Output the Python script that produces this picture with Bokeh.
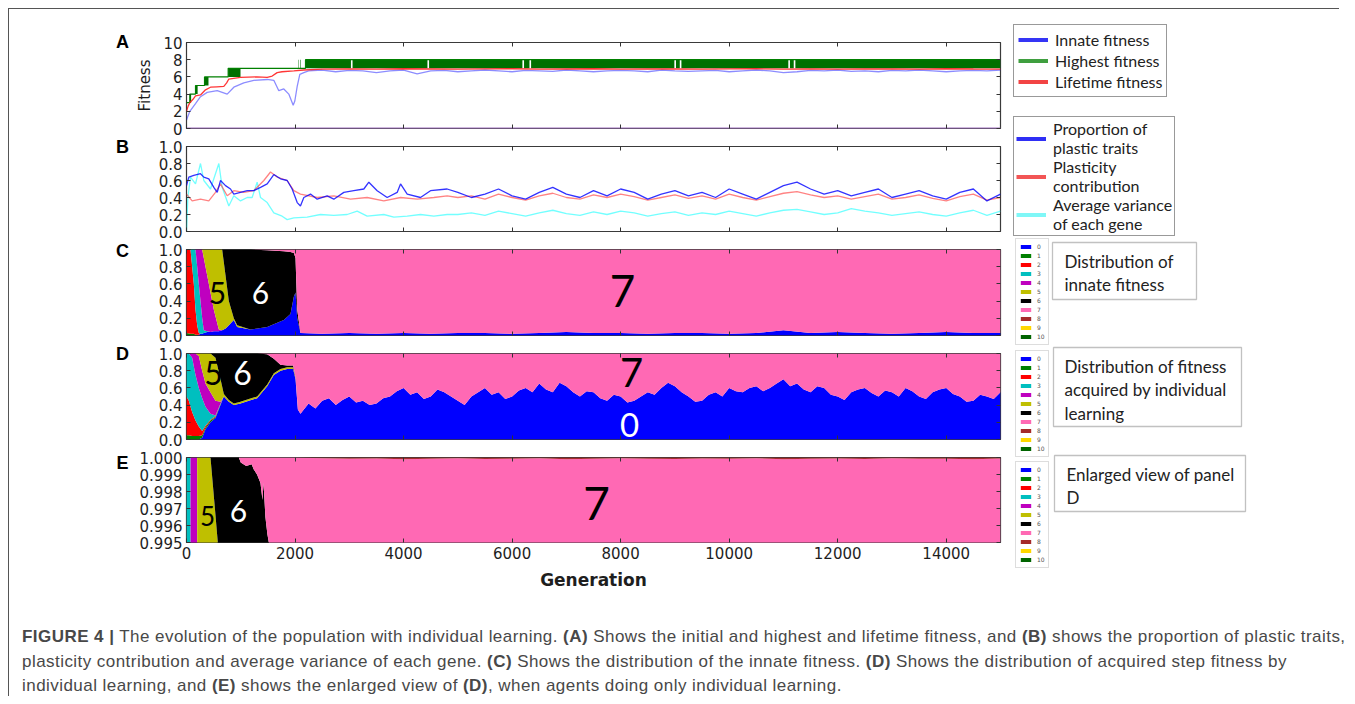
from bokeh.plotting import figure
from bokeh.models import (Range1d, FixedTicker, LinearAxis, Label, Legend, LegendItem,
                          Div, PrintfTickFormatter, BoxAnnotation)
from bokeh.layouts import column, row
from bokeh.embed import file_html
from bokeh.resources import INLINE

# ------------------------------------------------------------------ data
GEN_TICKS = [0, 2000, 4000, 6000, 8000, 10000, 12000, 14000]
LEVEL_LABELS = [str(i) for i in range(11)]
LEVEL_COLORS = ["#0000ff", "#008000", "#ff0000", "#00bfbf", "#bf00bf", "#bfbf00",
                "#000000", "#ff69b4", "#a52a2a", "#ffd700", "#006400"]
PANEL_LETTERS = ["A", "B", "C", "D", "E"]

# Panel A : fitness
A_innate_gen = [0, 61, 166, 258, 381, 566, 750, 872, 1056, 1240, 1487, 1609, 1701, 1793,
                1885, 1966, 1996, 2040, 2088, 2162] + list(range(2250, 15001, 250))
A_innate = [1.0, 2.0, 2.9, 3.7, 4.2, 4.4, 4.0, 4.8, 5.3, 5.6, 5.7, 5.6, 4.4, 4.6, 4.0, 2.7,
            3.2, 4.9, 6.3, 6.5,
            6.7, 6.8, 6.6, 6.75, 6.7, 6.5, 6.7, 6.8, 6.35, 6.7,
            6.75, 6.6, 6.7, 6.8, 6.7, 6.6, 6.75, 6.7, 6.65, 6.8,
            6.7, 6.6, 6.7, 6.75, 6.7, 6.6, 6.8, 6.7, 6.65, 6.7,
            6.75, 6.6, 6.7, 6.8, 6.7, 6.5, 6.6, 6.75, 6.7, 6.8,
            6.65, 6.7, 6.6, 6.75, 6.7, 6.8, 6.7, 6.6, 6.7, 6.75,
            6.7, 6.8]
assert len(A_innate) == len(A_innate_gen)
A_life_gen = [0, 30, 61, 120, 166, 258, 350, 442, 560, 688, 740, 780, 995, 1300, 1487, 1579,
              1670, 1760, 1978, 2162] + list(range(2500, 15001, 500))
A_life = [2.0, 2.6, 3.0, 3.4, 3.8, 3.9, 4.5, 4.8, 4.85, 4.9, 5.3, 5.75, 5.95, 6.0, 5.95, 6.1,
          6.5, 6.6, 6.7, 6.8,
          6.9, 6.92, 6.9, 6.95, 6.92, 6.9, 6.93, 6.95, 6.9, 6.92, 6.95, 6.9, 6.92, 6.94, 6.9,
          6.93, 6.95, 6.9, 6.92, 6.9, 6.94, 6.92, 6.9, 6.95, 6.92, 6.9]
A_high_gen = [0, 61, 166, 332, 768, 2193, 15000]
A_high = [3, 4, 5, 6, 7, 8, 8]
A_flick_start = [61, 166, 332, 768, 2064, 2100, 2193, 3060, 4470, 6220, 6350, 9020, 9120, 11120, 11220]
A_flick_end = [85, 205, 405, 995, 2072, 2110, 3030, 4440, 6190, 6320, 8990, 9090, 11090, 11190, 15000]
A_flick_low = [3, 4, 5, 6, 7, 7, 7, 7, 7, 7, 7, 7, 7, 7, 7]
A_zero_gen = [0, 15000]
A_zero = [0, 0]

# Panel B : plasticity
B_late_gen = list(range(5000, 15001, 250))
B_blue_gen = [0, 43, 135, 258, 319, 411, 504, 566, 627, 719, 811, 872, 995, 1118, 1240, 1364,
              1487, 1609, 1732, 1855, 1947, 2040, 2100, 2162, 2285, 2408, 2592, 2715, 2899,
              3083, 3268, 3360, 3514, 3698, 3882, 3944, 4067, 4312, 4496, 4803] + B_late_gen
B_blue = [0.54, 0.64, 0.66, 0.68, 0.64, 0.62, 0.52, 0.46, 0.60, 0.54, 0.50, 0.44, 0.46, 0.48,
          0.48, 0.52, 0.56, 0.67, 0.62, 0.60, 0.50, 0.34, 0.30, 0.40, 0.44, 0.38, 0.42, 0.38,
          0.46, 0.48, 0.50, 0.58, 0.48, 0.40, 0.46, 0.56, 0.44, 0.40, 0.48, 0.50,
          0.46, 0.40, 0.44, 0.50, 0.42, 0.38, 0.46, 0.52, 0.44, 0.40, 0.48, 0.42, 0.50, 0.46,
          0.38, 0.44, 0.48, 0.42, 0.46, 0.40, 0.50, 0.44, 0.38, 0.46, 0.54, 0.58, 0.50, 0.44,
          0.48, 0.42, 0.46, 0.50, 0.40, 0.44, 0.48, 0.42, 0.38, 0.46, 0.50, 0.36, 0.44]
B_red_gen = [0, 104, 258, 411, 534, 627, 750, 872, 1056, 1240, 1425, 1548, 1670, 1855, 1978,
             2100, 2408, 2715, 3022, 3329, 3636, 3944, 4251, 4558, 4803] + B_late_gen
B_red = [0.44, 0.36, 0.38, 0.36, 0.46, 0.56, 0.42, 0.48, 0.46, 0.48, 0.60, 0.70, 0.64, 0.60,
         0.48, 0.44, 0.40, 0.42, 0.38, 0.40, 0.36, 0.40, 0.38, 0.40, 0.42,
         0.40, 0.42, 0.38, 0.44, 0.40, 0.37, 0.42, 0.45, 0.40, 0.38, 0.43, 0.40, 0.44, 0.41,
         0.37, 0.40, 0.43, 0.39, 0.42, 0.38, 0.44, 0.40, 0.37, 0.41, 0.45, 0.47, 0.43, 0.40,
         0.42, 0.38, 0.41, 0.44, 0.38, 0.40, 0.43, 0.39, 0.36, 0.41, 0.44, 0.37, 0.40]
B_cyan_gen = [0, 25, 74, 166, 258, 319, 442, 534, 596, 657, 780, 872, 995, 1118, 1210, 1302,
              1364, 1487, 1609, 1762, 1855, 1978, 2223, 2469, 2715, 2961, 3145, 3329, 3636,
              3821, 4067, 4312, 4558, 4803] + B_late_gen
B_cyan = [0.0, 0.40, 0.64, 0.56, 0.80, 0.60, 0.50, 0.68, 0.80, 0.52, 0.30, 0.42, 0.36, 0.40,
          0.40, 0.58, 0.40, 0.34, 0.22, 0.18, 0.14, 0.16, 0.17, 0.20, 0.19, 0.20, 0.24, 0.18,
          0.20, 0.17, 0.18, 0.20, 0.18, 0.20,
          0.20, 0.22, 0.19, 0.24, 0.21, 0.18, 0.22, 0.25, 0.21, 0.19, 0.23, 0.20, 0.24, 0.22,
          0.18, 0.21, 0.23, 0.19, 0.22, 0.20, 0.24, 0.21, 0.18, 0.22, 0.25, 0.26, 0.23, 0.20,
          0.22, 0.27, 0.24, 0.22, 0.19, 0.21, 0.23, 0.20, 0.18, 0.22, 0.25, 0.19, 0.24]

# Panel C : distribution of innate fitness (cumulative share of levels <= k)
C_gen_early = [0, 74, 135, 166, 197, 227, 258, 289, 319, 381, 442, 504, 596, 657, 719, 780,
               872, 934, 1179, 1487, 1793, 1916, 1978, 2009, 2040, 2100]
C_le0_early = [0, 0, 0, 0, 0, 0.01, 0.02, 0.02, 0.03, 0.04, 0.04, 0.05, 0.05, 0.06, 0.08, 0.12,
               0.18, 0.10, 0.07, 0.10, 0.18, 0.25, 0.45, 0.50, 0.20, 0.03]
C_le1_early = [0.03, 0.02, 0.02, 0.01, 0.01, 0.01, 0.02, 0.02, 0.03, 0.04, 0.04, 0.05, 0.05,
               0.06, 0.08, 0.12, 0.18, 0.10, 0.07, 0.10, 0.18, 0.25, 0.45, 0.50, 0.20, 0.03]
C_le2_early = [1.0, 1.0, 0.6, 0.3, 0.12, 0.03, 0.02, 0.02, 0.03, 0.04, 0.04, 0.05, 0.05, 0.06,
               0.08, 0.12, 0.18, 0.10, 0.07, 0.10, 0.18, 0.25, 0.45, 0.50, 0.20, 0.03]
C_le3_early = [1.0, 1.0, 1.0, 1.0, 0.8, 0.6, 0.4, 0.2, 0.06, 0.05, 0.04, 0.05, 0.05, 0.06,
               0.08, 0.12, 0.18, 0.10, 0.07, 0.10, 0.18, 0.25, 0.45, 0.50, 0.20, 0.03]
C_le4_early = [1.0, 1.0, 1.0, 1.0, 1.0, 1.0, 1.0, 1.0, 0.9, 0.7, 0.5, 0.3, 0.07, 0.06, 0.08,
               0.12, 0.18, 0.10, 0.07, 0.10, 0.18, 0.25, 0.45, 0.50, 0.20, 0.03]
C_le5_early = [1.0, 1.0, 1.0, 1.0, 1.0, 1.0, 1.0, 1.0, 1.0, 1.0, 1.0, 1.0, 1.0, 1.0, 0.7, 0.4,
               0.2, 0.12, 0.07, 0.10, 0.18, 0.25, 0.45, 0.50, 0.20, 0.03]
C_le6_early = [1.0, 1.0, 1.0, 1.0, 1.0, 1.0, 1.0, 1.0, 1.0, 1.0, 1.0, 1.0, 1.0, 1.0, 1.0, 1.0,
               1.0, 1.0, 1.0, 0.99, 0.98, 0.97, 0.96, 0.90, 0.30, 0.03]
C_late_gen = list(range(2500, 15001, 500))
C_late_le0 = [0.02, 0.03, 0.02, 0.03, 0.02, 0.03, 0.03, 0.02, 0.03, 0.04, 0.03, 0.03, 0.02,
              0.03, 0.03, 0.02, 0.03, 0.06, 0.03, 0.04, 0.03, 0.02, 0.03, 0.04, 0.03, 0.03]

# Panel D : distribution of fitness acquired by individual learning
D_gen_early = [0, 43, 104, 166, 227, 289, 350, 442, 534, 627, 688, 780, 872, 995, 1148, 1302,
               1487, 1609, 1732, 1855, 1966, 2009, 2052, 2100]
D_le0_early = [0, 0, 0, 0, 0, 0.02, 0.12, 0.20, 0.25, 0.40, 0.50, 0.44, 0.40, 0.42, 0.45, 0.48,
               0.62, 0.75, 0.80, 0.82, 0.82, 0.70, 0.35, 0.30]
D_le1_early = [0.05, 0.05, 0.04, 0.04, 0.04, 0.05, 0.14, 0.22, 0.26, 0.41, 0.50, 0.44, 0.40,
               0.42, 0.45, 0.48, 0.62, 0.75, 0.80, 0.82, 0.82, 0.70, 0.35, 0.30]
D_le2_early = [0.50, 0.45, 0.32, 0.22, 0.15, 0.10, 0.16, 0.23, 0.27, 0.41, 0.50, 0.44, 0.40,
               0.42, 0.45, 0.48, 0.62, 0.75, 0.80, 0.82, 0.82, 0.70, 0.35, 0.30]
D_le3_early = [1.0, 1.0, 0.95, 0.75, 0.60, 0.48, 0.38, 0.30, 0.28, 0.42, 0.50, 0.44, 0.40,
               0.42, 0.45, 0.48, 0.62, 0.75, 0.80, 0.82, 0.82, 0.70, 0.35, 0.30]
D_le4_early = [1.0, 1.0, 1.0, 1.0, 0.97, 0.80, 0.65, 0.55, 0.45, 0.44, 0.50, 0.44, 0.40, 0.42,
               0.45, 0.48, 0.62, 0.75, 0.80, 0.82, 0.82, 0.70, 0.35, 0.30]
D_le5_early = [1.0, 1.0, 1.0, 1.0, 1.0, 1.0, 1.0, 1.0, 0.95, 0.70, 0.53, 0.46, 0.42, 0.44, 0.47,
               0.50, 0.64, 0.77, 0.82, 0.84, 0.84, 0.71, 0.35, 0.30]
D_le6_early = [1.0, 1.0, 1.0, 1.0, 1.0, 1.0, 1.0, 1.0, 1.0, 1.0, 1.0, 1.0, 1.0, 1.0, 1.0, 1.0,
               0.99, 0.94, 0.87, 0.86, 0.86, 0.72, 0.35, 0.30]
D_late_gen = list(range(2250, 15001, 125))
D_late_le0 = [
    0.42, 0.36, 0.45, 0.48, 0.40, 0.46, 0.50, 0.43,      # 2250 - 3125
    0.45, 0.40, 0.42, 0.48, 0.50, 0.56, 0.60, 0.52,      # 3250 - 4125
    0.55, 0.47, 0.50, 0.58, 0.55, 0.50, 0.45, 0.40,      # 4250 - 5125
    0.50, 0.55, 0.60, 0.52, 0.55, 0.47, 0.50, 0.57,      # 5250 - 6125
    0.60, 0.55, 0.65, 0.58, 0.55, 0.66, 0.62, 0.55,      # 6250 - 7125
    0.50, 0.56, 0.55, 0.48, 0.45, 0.52, 0.50, 0.43,      # 7250 - 8125
    0.45, 0.50, 0.55, 0.52, 0.60, 0.66, 0.62, 0.55,      # 8250 - 9125
    0.50, 0.44, 0.45, 0.52, 0.55, 0.50, 0.60, 0.56,      # 9250 - 10125
    0.55, 0.60, 0.62, 0.56, 0.60, 0.65, 0.70, 0.62,      # 10250 - 11125
    0.65, 0.58, 0.55, 0.62, 0.60, 0.52, 0.50, 0.46,      # 11250 - 12125
    0.55, 0.58, 0.60, 0.54, 0.50, 0.57, 0.55, 0.50,      # 12250 - 13125
    0.60, 0.56, 0.50, 0.47, 0.55, 0.58, 0.60, 0.53,      # 13250 - 14125
    0.50, 0.44, 0.45, 0.52, 0.50, 0.47, 0.55]            # 14250 - 15000
assert len(D_late_le0) == len(D_late_gen)

# Panel E : enlarged top of panel D (0.995 - 1.000)
E_gen = [0, 74, 75, 197, 198, 442, 510, 577, 600, 964, 1000, 1100, 1200, 1240, 1300, 1363,
         1400, 1420, 1454, 1490, 1517, 1550] + list(range(2000, 15001, 500))
E_le2 = [0.99] * 22 + [0.99] * 27
E_le3 = [1.0, 1.0] + [0.99] * 20 + [0.99] * 27
E_le4 = [1.0, 1.0, 1.0, 1.0] + [0.99] * 18 + [0.99] * 27
E_le5 = [1.0, 1.0, 1.0, 1.0, 1.0, 1.0, 0.9975, 0.995] + [0.99] * 14 + [0.99] * 27
E_le6 = [1.0, 1.0, 1.0, 1.0, 1.0, 1.0, 1.0, 1.0, 1.0, 1.0, 0.9997, 0.9995, 0.9996, 0.9993,
         0.999, 0.9985, 0.9975, 0.9985, 0.9965, 0.9955, 0.995, 0.99] + [0.99] * 27
E_le7 = [1.0] * 22 + [1.0, 0.99995, 0.99992, 0.99994, 0.9999, 0.99993, 0.99995, 0.99991,
                      0.99993, 0.99996, 0.9999, 0.99992, 0.99995, 0.99993, 0.99991, 0.99994,
                      0.99992, 0.99995, 0.9999, 0.99993, 0.99994, 0.99991, 0.99995, 0.99992,
                      0.99993, 0.9999, 0.99994]
E_le8 = [1.0] * 49

# ------------------------------------------------------------------ helpers
FW = 814
TICK_C = "#333333"
LAB_C = "#1e1e1e"
COL_H = 591          # height of the panel column (px)
CAP_H = 96


def make_panel(top, fh, bottom, y0, y1):
    p = figure(frame_width=FW, frame_height=fh, min_border_left=53, min_border_right=5,
               min_border_top=top, min_border_bottom=bottom,
               x_range=Range1d(0, 15000), y_range=Range1d(y0, y1),
               x_axis_location=None, y_axis_location=None,
               output_backend="svg", toolbar_location=None)
    p.grid.visible = False
    p.outline_line_color = "#3a3a3a"
    p.outline_line_width = 1.2
    return p


def hide_labels(ax):
    ax.major_label_text_font_size = "1px"
    ax.major_label_text_color = None
    ax.major_label_standoff = 0


def add_axes(p, yticks, yfmt, xlabels=False, ylabel=None, ysize="15px"):
    for loc in ("left", "right"):
        ax = LinearAxis(ticker=FixedTicker(ticks=yticks), formatter=PrintfTickFormatter(format=yfmt),
                        major_tick_in=4, major_tick_out=0, minor_tick_in=0, minor_tick_out=0,
                        axis_line_color=None, major_tick_line_color=TICK_C,
                        major_label_text_font="DejaVu Sans", major_label_text_font_size=ysize,
                        major_label_text_color=LAB_C, major_label_standoff=4)
        if loc == "right":
            hide_labels(ax)
        elif ylabel:
            ax.axis_label = ylabel
            ax.axis_label_text_font = "DejaVu Sans"
            ax.axis_label_text_font_size = "15px"
            ax.axis_label_text_font_style = "normal"
            ax.axis_label_text_color = LAB_C
            ax.axis_label_standoff = 6
        p.add_layout(ax, loc)
    for loc in ("below", "above"):
        ax = LinearAxis(ticker=FixedTicker(ticks=GEN_TICKS), formatter=PrintfTickFormatter(format="%d"),
                        major_tick_in=4, major_tick_out=0, minor_tick_in=0, minor_tick_out=0,
                        axis_line_color=None, major_tick_line_color=TICK_C,
                        major_label_text_font="DejaVu Sans", major_label_text_font_size="15px",
                        major_label_text_color=LAB_C, major_label_standoff=4)
        if xlabels and loc == "below":
            ax.axis_label = "Generation"
            ax.axis_label_text_font = "DejaVu Sans"
            ax.axis_label_text_font_size = "17px"
            ax.axis_label_text_font_style = "bold"
            ax.axis_label_text_color = LAB_C
            ax.axis_label_standoff = 8
        else:
            hide_labels(ax)
        p.add_layout(ax, loc)


def number(p, x, y, txt, size, color):
    p.add_layout(Label(x=x, y=y, text=txt, text_font="Lato", text_font_size=size,
                       text_align="center", text_baseline="middle", text_color=color))


def stack(p, gens, cums):
    prev = [0.0] * len(gens)
    for k, cum in enumerate(cums):
        if cum is None:
            continue
        p.varea(x=gens, y1=prev, y2=cum, fill_color=LEVEL_COLORS[k], fill_alpha=1.0)
        prev = cum


# ------------------------------------------------------------------ panel A
pA = make_panel(33, 86, 9, 0, 10)
add_axes(pA, [0, 2, 4, 6, 8, 10], "%d", ylabel="Fitness")
pA.line(A_innate_gen, A_innate, line_color="#0000ff", line_alpha=0.45, line_width=1.3)
pA.quad(left=A_flick_start, right=A_flick_end, bottom=A_flick_low,
        top=[v + 1 for v in A_flick_low], fill_color="#007000", line_color=None)
pA.step(A_high_gen, A_high, mode="after", line_color="#008000", line_width=1.2)
pA.line(A_life_gen, A_life, line_color="#ff2020", line_alpha=0.9, line_width=1.3)
pA.line(A_zero_gen, A_zero, line_color="#a070c0", line_width=2)

# ------------------------------------------------------------------ panel B
pB = make_panel(9, 85, 9, 0, 1)
add_axes(pB, [0, 0.2, 0.4, 0.6, 0.8, 1.0], "%.1f")
pB.line(B_cyan_gen, B_cyan, line_color="#00ffff", line_alpha=0.55, line_width=1.3)
pB.line(B_red_gen, B_red, line_color="#ff3030", line_alpha=0.6, line_width=1.3)
pB.line(B_blue_gen, B_blue, line_color="#0000ff", line_alpha=0.8, line_width=1.3)

# ------------------------------------------------------------------ panel C
pC = make_panel(9, 86, 9, 0, 1)
add_axes(pC, [0, 0.2, 0.4, 0.6, 0.8, 1.0], "%.1f")
C_gen = C_gen_early + C_late_gen
C_cums = [C_le0_early + C_late_le0, C_le1_early + C_late_le0, C_le2_early + C_late_le0,
          C_le3_early + C_late_le0, C_le4_early + C_late_le0, C_le5_early + C_late_le0,
          C_le6_early + C_late_le0, [1.0] * len(C_gen), None, None, None]
stack(pC, C_gen, C_cums)
number(pC, 571, 0.49, "5", "30px", "black")
number(pC, 1364, 0.49, "6", "30px", "white")
number(pC, 8034, 0.52, "7", "44px", "black")

# ------------------------------------------------------------------ panel D
pD = make_panel(9, 86, 9, 0, 1)
add_axes(pD, [0, 0.2, 0.4, 0.6, 0.8, 1.0], "%.1f")
D_gen = D_gen_early + D_late_gen
D_cums = [D_le0_early + D_late_le0, D_le1_early + D_late_le0, D_le2_early + D_late_le0,
          D_le3_early + D_late_le0, D_le4_early + D_late_le0, D_le5_early + D_late_le0,
          D_le6_early + D_late_le0, [1.0] * len(D_gen), None, None, None]
stack(pD, D_gen, D_cums)
number(pD, 498, 0.77, "5", "32px", "black")
number(pD, 1032, 0.77, "6", "32px", "white")
number(pD, 8200, 0.78, "7", "40px", "black")
number(pD, 8163, 0.17, "0", "33px", "white")

# ------------------------------------------------------------------ panel E
pE = make_panel(9, 85, 58, 0.995, 1.0)
add_axes(pE, [0.995, 0.996, 0.997, 0.998, 0.999, 1.0], "%.3f", xlabels=True)
E_cums = [None, None, E_le2, E_le3, E_le4, E_le5, E_le6, E_le7, E_le8, None, None]
stack(pE, E_gen, E_cums)
number(pE, 387, 0.99657, "5", "26px", "black")
number(pE, 958, 0.99686, "6", "30px", "white")
number(pE, 7555, 0.99727, "7", "46px", "black")

left_col = column(pA, pB, pC, pD, pE, spacing=0)

# ------------------------------------------------------------------ panel letters strip
SW = 124
S = figure(width=SW, height=COL_H, x_range=Range1d(0, SW), y_range=Range1d(0, COL_H),
           min_border=0, x_axis_location=None, y_axis_location=None,
           output_backend="svg", toolbar_location=None)
S.grid.visible = False
S.outline_line_color = None
for ch, yy in zip(PANEL_LETTERS, [559, 454, 350, 247, 138]):
    S.add_layout(Label(x=113, y=yy, text=ch, text_font="Liberation Sans", text_font_style="bold",
                       text_font_size="18px", text_align="center", text_baseline="middle",
                       text_color="black"))

# ------------------------------------------------------------------ legends (right side)
RW = 330
R = figure(width=RW, height=COL_H, x_range=Range1d(0, RW), y_range=Range1d(0, COL_H),
           min_border=0, x_axis_location=None, y_axis_location=None,
           output_backend="svg", toolbar_location=None)
R.grid.visible = False
R.outline_line_color = None

A_legend_labels = ["Innate fitness", "Highest fitness", "Lifetime fitness"]
A_legend_colors = ["#3535f5", "#3f9f3f", "#f24444"]
B_legend_labels = ["Proportion of\nplastic traits", "Plasticity\ncontribution",
                   "Average variance\nof each gene"]
B_legend_colors = ["#2f2ff5", "#f25555", "#7ff7f7"]


def line_legend(labels, colors, loc, lh, lsp, pad):
    items = []
    for lab, c in zip(labels, colors):
        r = R.line(x=[-20, -10], y=[-20, -20], line_color=c, line_width=4)
        items.append(LegendItem(label=lab, renderers=[r]))
    lg = Legend(items=items, location=loc, orientation="vertical", padding=pad, spacing=0,
                margin=0, glyph_width=30, glyph_height=lh, label_height=lh, label_standoff=7,
                label_text_font="Lato", label_text_font_size="16px", label_text_color="#222222",
                label_text_line_height=lsp,
                border_line_color="#333333", border_line_width=1.3, background_fill_alpha=1.0)
    R.add_layout(lg)


def color_legend(loc):
    items = []
    for lab, c in zip(LEVEL_LABELS, LEVEL_COLORS):
        r = R.rect(x=[-20], y=[-20], width=1, height=1, fill_color=c, line_color=None)
        items.append(LegendItem(label=lab, renderers=[r]))
    lg = Legend(items=items, location=loc, orientation="vertical", padding=3, spacing=0,
                margin=0, glyph_width=13, glyph_height=5, label_height=9, label_width=8,
                label_standoff=5,
                label_text_font="DejaVu Sans", label_text_font_size="6px",
                label_text_color="#555555", border_line_color="#bbbbbb", border_line_width=1)
    R.add_layout(lg)


def text_box(l, r, b, t, tx, ty, txt):
    R.add_layout(BoxAnnotation(left=l, right=r, bottom=b, top=t, fill_alpha=0,
                               line_color="#333333", line_width=1.3))
    R.add_layout(Label(x=tx, y=ty, text=txt, text_font="Lato", text_font_size="17px",
                       text_color="#222222", text_align="left", text_baseline="top",
                       text_line_height=1.13))


line_legend(A_legend_labels, A_legend_colors, (8, 503), 21, 1.2, 4)
line_legend(B_legend_labels, B_legend_colors, (8, 364), 33, 1.1, 2)
color_legend((10, 255))
color_legend((10, 143))
color_legend((10, 32))
text_box(47, 191, 301, 358, 59, 350, "Distribution of\ninnate fitness")
text_box(48, 236, 174, 253, 59, 245, "Distribution of fitness\nacquired by individual\nlearning")
text_box(49, 240, 89, 145, 61, 137, "Enlarged view of panel\nD")

# ------------------------------------------------------------------ caption
caption = ("<b>FIGURE 4 |</b> The evolution of the population with individual learning. "
           "<b>(A)</b> Shows the initial and highest and lifetime fitness, and <b>(B)</b> shows "
           "the proportion of plastic traits,<br>plasticity contribution and average variance of "
           "each gene. <b>(C)</b> Shows the distribution of the innate fitness. <b>(D)</b> Shows "
           "the distribution of acquired step fitness by<br>individual learning, and <b>(E)</b> "
           "shows the enlarged view of <b>(D)</b>, when agents doing only individual learning.")
CAP_W = 1330
cap = Div(text=caption, width=CAP_W, height=CAP_H, margin=0,
          styles={"font-family": "'Liberation Sans', Arial, sans-serif", "font-size": "17px",
                  "letter-spacing": "0.45px", "line-height": "24.5px", "color": "#484848",
                  "padding-left": "13px", "padding-top": "25px", "white-space": "nowrap",
                  "box-sizing": "border-box"})

# frame lines (top and left) of the figure box
hline = Div(text="", width=CAP_W, height=1, margin=0, styles={"background-color": "#555555"})
vline = Div(text="", width=1, height=1 + COL_H + CAP_H, margin=0,
            styles={"background-color": "#555555"})

inner = column(hline, row(S, left_col, R, spacing=0), cap, spacing=0)
page = row(vline, inner, spacing=0, margin=(8, 0, 0, 8))

open("out.html", "w").write(file_html(page, INLINE))
